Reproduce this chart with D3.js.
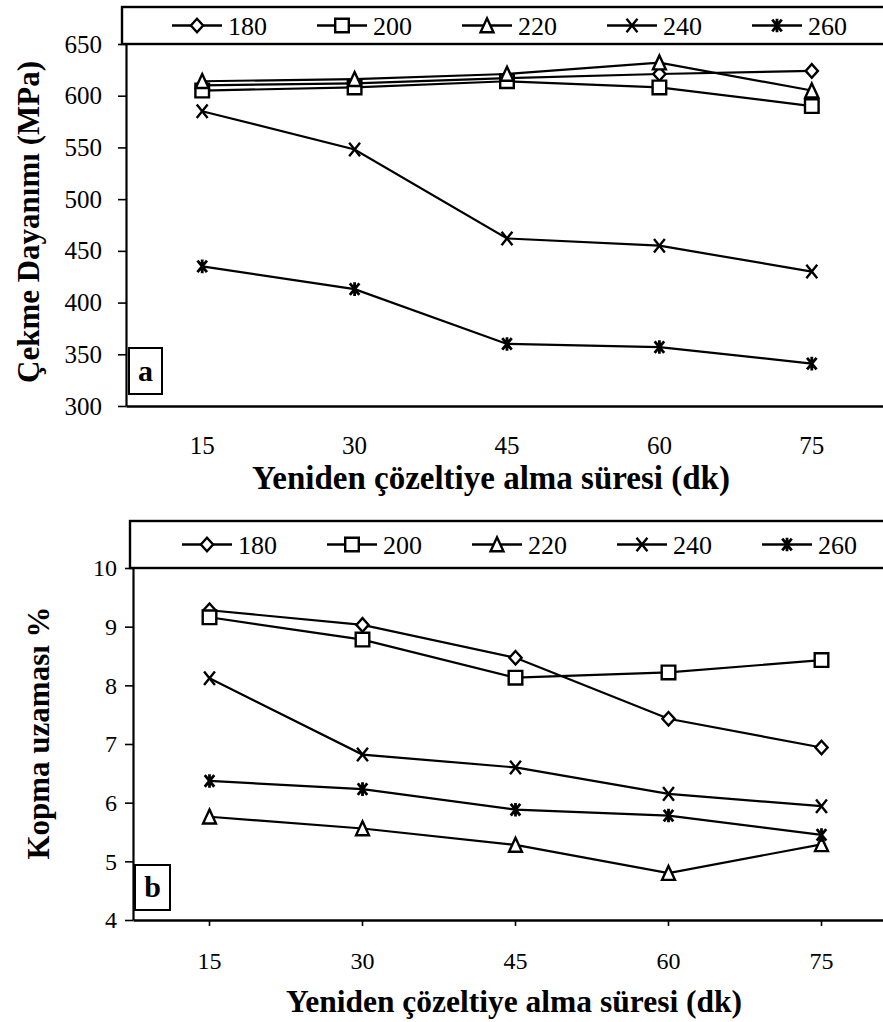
<!DOCTYPE html>
<html>
<head>
<meta charset="utf-8">
<script src="https://cdn.jsdelivr.net/npm/d3@7/dist/d3.min.js"></script>
<style>
  html, body { margin: 0; padding: 0; background: #fff; }
  svg { display: block; }
  svg text { font-family: "Liberation Serif", "Times New Roman", Times, "Nimbus Roman", serif !important; fill: #000; }
</style>
</head>
<body>
<svg id="chart" width="883" height="1022"></svg>
<script>
// ---- data ----
const categories = ["15", "30", "45", "60", "75"];
const seriesNames = ["180", "200", "220", "240", "260"];
const markerTypes = ["diamond", "square", "triangle", "cross", "star"];

const tensile180 = [610, 612, 617, 621, 624];
const tensile200 = [605, 608, 614, 608, 590];
const tensile220 = [614, 616, 621, 632, 605];
const tensile240 = [585, 548, 462, 455, 430];
const tensile260 = [435, 413, 360, 357, 341];
const tensileTicks = [300, 350, 400, 450, 500, 550, 600, 650];

const elong180 = [9.28, 9.03, 8.47, 7.43, 6.94];
const elong200 = [9.16, 8.78, 8.13, 8.22, 8.43];
const elong220 = [5.76, 5.56, 5.28, 4.80, 5.29];
const elong240 = [8.12, 6.82, 6.60, 6.15, 5.94];
const elong260 = [6.37, 6.23, 5.88, 5.78, 5.45];
const elongTicks = [4, 5, 6, 7, 8, 9, 10];

const xTitle = "Yeniden çözeltiye alma süresi (dk)";

// ---- drawing ----
const svg = d3.select("#chart");

function markerPath(type, s) {
  const p = d3.path();
  if (type === "diamond") {
    p.moveTo(0, -s); p.lineTo(s * 0.9, 0); p.lineTo(0, s); p.lineTo(-s * 0.9, 0); p.closePath();
  } else if (type === "square") {
    p.rect(-s, -s, 2 * s, 2 * s);
  } else if (type === "triangle") {
    p.moveTo(0, -s * 1.05); p.lineTo(s * 0.95, s); p.lineTo(-s * 0.95, s); p.closePath();
  } else if (type === "cross") {
    p.moveTo(-s * 0.8, -s); p.lineTo(s * 0.8, s); p.moveTo(s * 0.8, -s); p.lineTo(-s * 0.8, s);
  } else if (type === "star") {
    p.moveTo(-s * 0.7, -s * 0.85); p.lineTo(s * 0.7, s * 0.85);
    p.moveTo(s * 0.7, -s * 0.85); p.lineTo(-s * 0.7, s * 0.85);
    p.moveTo(0, -s); p.lineTo(0, s);
  }
  return p.toString();
}

function drawMarker(g, type, x, y) {
  const open = (type === "cross" || type === "star");
  g.append("path")
    .attr("d", markerPath(type, 6.8))
    .attr("transform", `translate(${x},${y})`)
    .attr("fill", open ? "none" : "#fff")
    .attr("stroke", "#000")
    .attr("stroke-width", type === "star" ? 2.8 : 2.4);
}

function drawPanel(cfg) {
  const g = svg.append("g");
  const x = d3.scaleBand().domain(categories).range([cfg.left, cfg.right]).paddingInner(0).paddingOuter(0);
  const y = d3.scaleLinear().domain(cfg.domain).range([cfg.bottom, cfg.top]);

  // y axis
  const ya = g.append("g").attr("transform", `translate(${cfg.left},0)`)
    .call(d3.axisLeft(y).tickValues(cfg.ticks).tickFormat(d3.format("d"))
      .tickSize(8).tickSizeOuter(0).tickPadding(cfg.yPad));
  ya.attr("font-family", null);
  ya.select(".domain").attr("stroke", "#000").attr("stroke-width", 2.2);
  ya.selectAll(".tick line").attr("stroke", "#000").attr("stroke-width", 1.6);
  ya.selectAll(".tick text").attr("font-size", cfg.tickFont);

  // x axis
  const xa = g.append("g").attr("transform", `translate(0,${cfg.bottom})`)
    .call(d3.axisBottom(x).tickSize(cfg.xTick).tickSizeOuter(0).tickPadding(cfg.xPad));
  xa.attr("font-family", null);
  xa.select(".domain").attr("stroke", "#000").attr("stroke-width", 2.6);
  xa.selectAll(".tick line").attr("stroke", "#000").attr("stroke-width", 1.6);
  xa.selectAll(".tick text").attr("font-size", cfg.tickFont);

  // series lines
  const line = d3.line().x((d, i) => x(categories[i]) + x.bandwidth() / 2).y(d => y(d));
  cfg.series.forEach(s => {
    g.append("path").datum(s).attr("d", line)
      .attr("fill", "none").attr("stroke", "#000").attr("stroke-width", 2.2);
  });
  cfg.series.forEach((s, k) => {
    s.forEach((v, i) => drawMarker(g, markerTypes[k], x(categories[i]) + x.bandwidth() / 2, y(v)));
  });

  // legend box
  g.append("rect").attr("x", cfg.legX).attr("y", cfg.legTop)
    .attr("width", 900 - cfg.legX).attr("height", cfg.top - cfg.legTop)
    .attr("fill", "#fff").attr("stroke", "#000").attr("stroke-width", 2.4);
  const legMid = (cfg.legTop + cfg.top) / 2;
  seriesNames.forEach((name, k) => {
    const cx = cfg.legStart + k * 145;
    g.append("line").attr("x1", cx - 25).attr("x2", cx + 25).attr("y1", legMid).attr("y2", legMid)
      .attr("stroke", "#000").attr("stroke-width", 2.4);
    drawMarker(g, markerTypes[k], cx, legMid);
    g.append("text").attr("x", cx + 31).attr("y", legMid).attr("dy", "0.35em")
      .attr("font-size", 26).text(name);
  });

  // panel label box
  g.append("rect").attr("x", cfg.lab.x).attr("y", cfg.lab.y).attr("width", cfg.lab.w).attr("height", cfg.lab.h)
    .attr("fill", "#fff").attr("stroke", "#000").attr("stroke-width", 2);
  g.append("text").attr("x", cfg.lab.x + cfg.lab.w / 2).attr("y", cfg.lab.y + cfg.lab.h / 2)
    .attr("dy", "0.33em").attr("text-anchor", "middle").attr("font-weight", "bold")
    .attr("font-size", 30).text(cfg.lab.t);

  // titles
  g.append("text").attr("transform", `translate(${cfg.yTitleX},${cfg.yTitleY}) rotate(-90)`)
    .attr("text-anchor", "middle").attr("dy", "0.35em").attr("font-weight", "bold")
    .attr("font-size", cfg.yTitleFont).text(cfg.yTitle);
  g.append("text").attr("x", cfg.xTitleX).attr("y", cfg.xTitleY)
    .attr("text-anchor", "middle").attr("font-weight", "bold")
    .attr("font-size", cfg.xTitleFont).text(xTitle);
}

drawPanel({
  left: 126, right: 888, top: 44, bottom: 406,
  domain: [300, 650], ticks: tensileTicks,
  series: [tensile180, tensile200, tensile220, tensile240, tensile260],
  tickFont: 25, yPad: 16, xTick: 0, xPad: 30,
  legX: 122, legTop: 7, legStart: 197,
  lab: { x: 129, y: 348, w: 33, h: 46, t: "a" },
  yTitle: "Çekme Dayanımı (MPa)", yTitleX: 28, yTitleY: 222, yTitleFont: 31,
  xTitleX: 491, xTitleY: 489, xTitleFont: 33
});

drawPanel({
  left: 133, right: 898, top: 568, bottom: 920,
  domain: [4, 10], ticks: elongTicks,
  series: [elong180, elong200, elong220, elong240, elong260],
  tickFont: 24, yPad: 8, xTick: 6, xPad: 26,
  legX: 130, legTop: 521, legStart: 207,
  lab: { x: 135, y: 865, w: 35, h: 45, t: "b" },
  yTitle: "Kopma uzaması %", yTitleX: 38, yTitleY: 733, yTitleFont: 31,
  xTitleX: 514, xTitleY: 1012, xTitleFont: 31.5
});
</script>
</body>
</html>
